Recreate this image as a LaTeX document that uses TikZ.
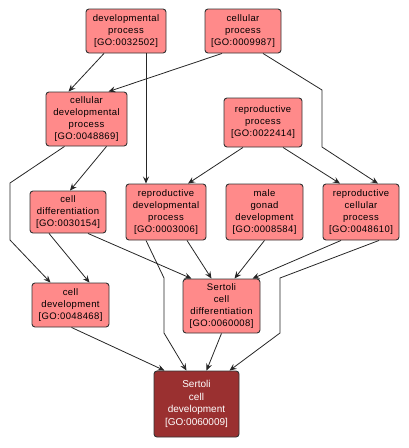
\documentclass[tikz,border=0pt]{standalone}
\usepackage{fontspec}
\setmainfont{Liberation Sans}
\newfontfamily\gofont[LetterSpace=4]{Liberation Sans}
\usetikzlibrary{arrows.meta}
\definecolor{termfill}{HTML}{FF8A8A}
\definecolor{rootfill}{HTML}{9A3030}
\begin{document}
\begin{tikzpicture}[x=1pt, y=-1pt,
    term/.style={draw=black!80, line width=0.9pt, fill=termfill, rounded corners=3pt,
      align=center, inner sep=0pt, font=\gofont\fontsize{9.5}{12}\selectfont},
    root/.style={term, fill=rootfill, text=white, font=\fontsize{10}{12.5}\selectfont},
    edge/.style={-{Stealth[length=7pt,width=6pt,inset=2.5pt]}, line width=0.8pt, black!85}]
  \useasboundingbox (0,0) rectangle (409,448);
  % oberste Ebene
  \node[term, minimum width=80, minimum height=44] (devproc) at (126,31)
    {developmental\\process\\{}[GO:0032502]};
  \node[term, minimum width=76, minimum height=44] (cellproc) at (243,31)
    {cellular\\process\\{}[GO:0009987]};
  \node[term, minimum width=81, minimum height=54] (celldevproc) at (86.5,119)
    {cellular\\developmental\\process\\{}[GO:0048869]};
  \node[term, minimum width=78, minimum height=49] (reproproc) at (263,122.5)
    {reproductive\\process\\{}[GO:0022414]};
  % mittlere Ebene
  \node[term, minimum width=76, minimum height=42] (celldiff) at (68,212)
    {cell\\differentiation\\{}[GO:0030154]};
  \node[term, minimum width=80, minimum height=56] (reprodev) at (166,212)
    {reproductive\\developmental\\process\\{}[GO:0003006]};
  \node[term, minimum width=77, minimum height=56] (gonad) at (264.5,212)
    {male\\gonad\\development\\{}[GO:0008584]};
  \node[term, minimum width=76, minimum height=56] (reprocell) at (361,212)
    {reproductive\\cellular\\process\\{}[GO:0048610]};
  \node[term, minimum width=77, minimum height=44] (celldevel) at (70.5,305)
    {cell\\development\\{}[GO:0048468]};
  \node[term, minimum width=77, minimum height=54] (sertdiff) at (221.5,306)
    {Sertoli\\cell\\differentiation\\{}[GO:0060008]};
  % unterste Ebene
  \node[root, minimum width=85, minimum height=66] (sertdev) at (196.5,404)
    {Sertoli\\cell\\development\\{}[GO:0060009]};
  % Kanten
  \draw[edge] ([xshift=-22]devproc.south) -- ([xshift=-18]celldevproc.north);
  \draw[edge] ([xshift=20]devproc.south) -- ([xshift=-20]reprodev.north);
  \draw[edge] ([xshift=-21]cellproc.south) -- ([xshift=22]celldevproc.north);
  \draw[edge] ([xshift=20]cellproc.south) -- (322,90) -- (322,147)
    -- ([xshift=17]reprocell.north);
  \draw[edge] ([xshift=20]celldevproc.south) -- ([xshift=2]celldiff.north);
  \draw[edge] ([xshift=-22]celldevproc.south) -- (10,183) -- (10,240)
    -- ([xshift=-20]celldevel.north);
  \draw[edge] ([xshift=-20]reproproc.south) -- ([xshift=22]reprodev.north);
  \draw[edge] ([xshift=20]reproproc.south) -- ([xshift=-21]reprocell.north);
  \draw[edge] ([xshift=-19]celldiff.south) -- ([xshift=19]celldevel.north);
  \draw[edge] ([xshift=20]celldiff.south) -- ([xshift=-30]sertdiff.north);
  \draw[edge] ([xshift=21]reprodev.south) -- ([xshift=-10]sertdiff.north);
  \draw[edge] ([xshift=-20]reprodev.south) -- (164,278) -- (164,333)
    -- ([xshift=-10]sertdev.north);
  \draw[edge] (gonad.south) -- ([xshift=13]sertdiff.north);
  \draw[edge] ([xshift=-20]reprocell.south) -- ([xshift=31]sertdiff.north);
  \draw[edge] ([xshift=18]reprocell.south) -- (280,278) -- (280,333)
    -- ([xshift=33]sertdev.north);
  \draw[edge] ([xshift=1]celldevel.south) -- ([xshift=-32]sertdev.north);
  \draw[edge] (sertdiff.south) -- ([xshift=10]sertdev.north);
\end{tikzpicture}
\end{document}
